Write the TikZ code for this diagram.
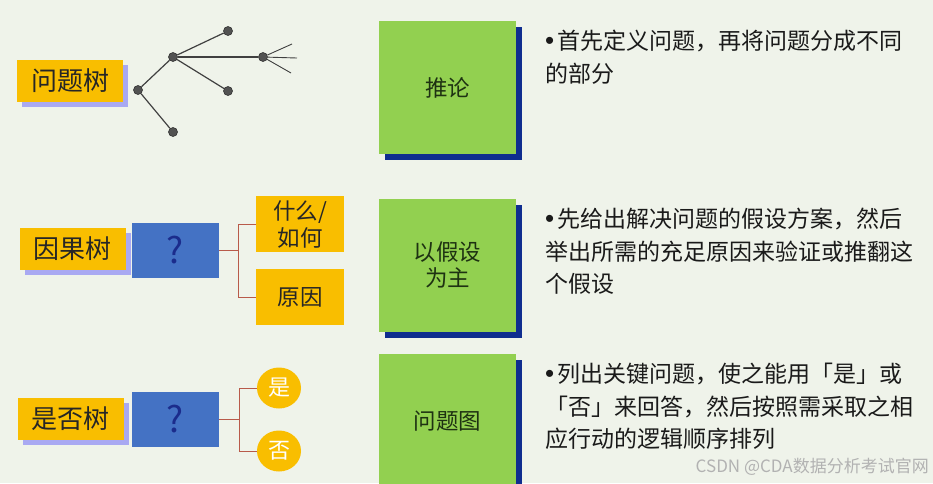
\documentclass[tikz,border=0pt]{standalone}
\usepackage{fontspec}
\setmainfont{Noto Sans CJK SC}
\newfontfamily\bulletfont{Liberation Sans}
\newcommand{\blt}{{\bulletfont\fontsize{26}{30}\selectfont •}\kern3pt}
\usetikzlibrary{shadows,shapes.geometric}
\definecolor{bg}{HTML}{EFF3EA}
\definecolor{orng}{HTML}{F9BE00}
\definecolor{lav}{HTML}{A9A9F2}
\definecolor{qblue}{HTML}{4472C4}
\definecolor{qmark}{HTML}{1B2C8C}
\definecolor{grn}{HTML}{92D050}
\definecolor{navy}{HTML}{0F2D8F}
\definecolor{connc}{HTML}{B85A4A}
\definecolor{treeline}{HTML}{404040}
\definecolor{gtext}{HTML}{1E3212}
\definecolor{bodytext}{HTML}{1A1A1A}
\begin{document}
\begin{tikzpicture}[x=1pt,y=-1pt,
  lbl/.style={fill=orng, inner sep=0pt, minimum width=106pt, minimum height=42pt,
    font=\fontsize{26}{30}\selectfont, text=black!85,
    drop shadow={shadow xshift=5pt,shadow yshift=-5pt,fill=lav,opacity=1}},
  qbox/.style={fill=qblue, inner sep=0pt, minimum width=87pt, minimum height=55pt,
    font=\fontsize{36}{40}\selectfont, text=qmark},
  obox/.style={fill=orng, inner sep=0pt, minimum width=88pt, minimum height=56pt,
    font=\fontsize{22.5}{27}\selectfont, text=black!85, align=center},
  ocirc/.style={ellipse, fill=orng, inner sep=0pt, minimum width=44pt, minimum height=41pt,
    font=\fontsize{22}{26}\selectfont, text=white},
  gbox/.style={fill=grn, inner sep=0pt, minimum width=137pt, minimum height=133pt,
    font=\fontsize{22.5}{26}\selectfont, text=gtext, align=center,
    drop shadow={shadow xshift=6pt,shadow yshift=-6pt,fill=navy,opacity=1}},
  body/.style={anchor=north west, inner sep=0pt, align=left, text=bodytext,
    font=\fontsize{23}{32.5}\selectfont},
  dot/.style={circle, fill=black!68, draw=black!80, line width=0.6pt, minimum size=9pt, inner sep=0pt},
  tline/.style={draw=treeline, line width=1.2pt},
  cline/.style={draw=connc, line width=1pt}
]
\useasboundingbox (0,0) rectangle (933,483);
\fill[bg] (0,0) rectangle (933,483);

% ---- row 1: problem tree
\node[lbl] (l1) at (70,81) {问题树};
\node[dot] (t0) at (173,57) {};
\node[dot] (t1) at (228,31) {};
\node[dot] (t2) at (228,91) {};
\node[dot] (t3) at (138,90) {};
\node[dot] (t4) at (173,132) {};
\node[dot] (t5) at (263,57) {};
\coordinate (e1) at (292,44);
\coordinate (e2) at (297,58);
\coordinate (e3) at (291,73);
\draw[tline] (t0) -- (t1);
\draw[tline] (t0) -- (t2);
\draw[tline] (t0) -- (t3);
\draw[tline] (t3) -- (t4);
\draw[tline] (t0) -- (t5);
\draw[tline,line width=0.9pt] (t5) -- (e1);
\draw[tline,line width=0.9pt] (t5) -- (e2);
\draw[tline,line width=0.9pt] (t5) -- (e3);

% ---- row 2: cause tree
\node[lbl] (l2) at (72.5,248.5) {因果树};
\node[qbox] (q1) at (175.5,250) {?};
\node[obox] (w1) at (300,224) {什么/\\如何};
\node[obox] (r1) at (300,297) {原因};
\draw[cline] (q1.east) -- ++(19,0) coordinate (j1);
\draw[cline] (j1) |- (w1.west);
\draw[cline] (j1) |- (r1.west);

% ---- row 3: yes/no tree
\node[lbl] (l3) at (70.5,419) {是否树};
\node[qbox] (q2) at (175.5,419.5) {?};
\node[ocirc] (c1) at (279,388) {是};
\node[ocirc] (c2) at (279,451) {否};
\draw[cline] (q2.east) -- ++(20,0) coordinate (j2);
\draw[cline] (j2) |- (c1.west);
\draw[cline] (j2) |- (c2.west);

% ---- green boxes
\node[gbox] (g1) at (447.5,87.5) {推论};
\node[gbox] (g2) at (447.5,265) {以假设\\为主};
\node[gbox,minimum height=134pt] (g3) at (447.5,421) {问题图};

% ---- descriptions
\node[body] (d1) at (545,30) {\blt 首先定义问题，再将问题分成不同\\的部分};
\node[body] (d2) at (545,208) {\blt 先给出解决问题的假设方案，然后\\举出所需的充足原因来验证或推翻这\\个假设};
\node[body] (d3) at (545,363) {\blt 列出关键问题，使之能用「是」或\\「否」来回答，然后按照需采取之相\\应行动的逻辑顺序排列};

% ---- watermark
\node[anchor=east, inner sep=0pt, text=black!30, font=\fontsize{17}{20}\selectfont] (wm) at (929,467) {CSDN @CDA数据分析考试官网};
\end{tikzpicture}
\end{document}
